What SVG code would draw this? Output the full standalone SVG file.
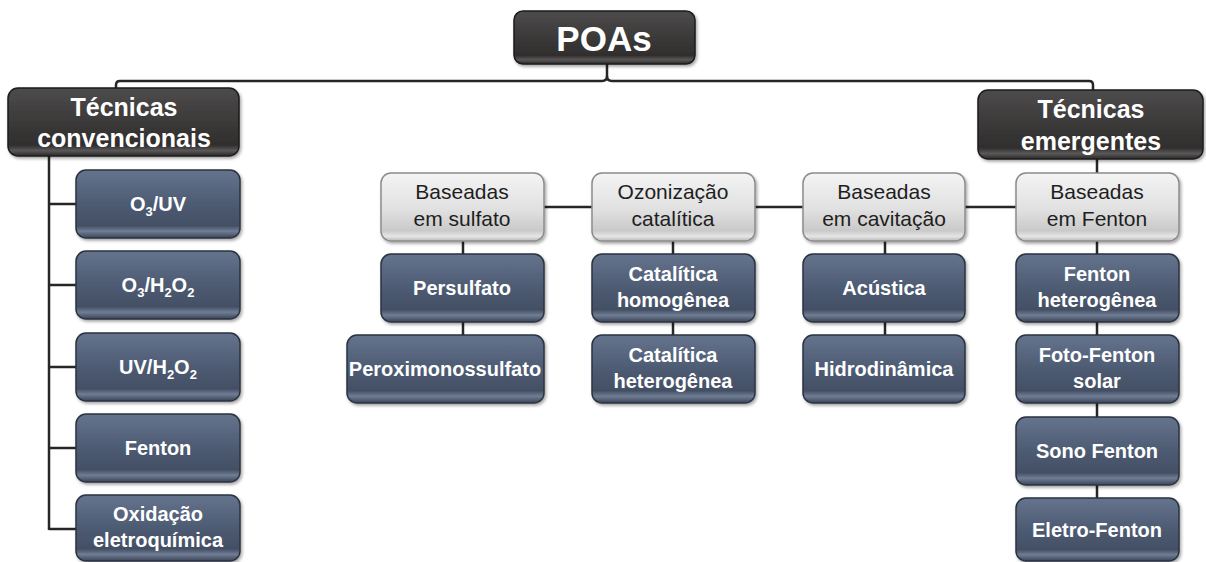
<svg xmlns="http://www.w3.org/2000/svg" width="1206" height="562" viewBox="0 0 1206 562">
<defs>
<linearGradient id="gBlue" x1="0" y1="0" x2="0" y2="1">
<stop offset="0" stop-color="#65748d"/>
<stop offset="0.45" stop-color="#4f5d75"/>
<stop offset="0.82" stop-color="#434f64"/>
<stop offset="0.9" stop-color="#707d94"/>
<stop offset="1" stop-color="#3a4557"/>
</linearGradient>
<linearGradient id="gGray" x1="0" y1="0" x2="0" y2="1">
<stop offset="0" stop-color="#f4f4f4"/>
<stop offset="0.55" stop-color="#e0e0e0"/>
<stop offset="0.85" stop-color="#c9c9c9"/>
<stop offset="0.93" stop-color="#e6e6e6"/>
<stop offset="1" stop-color="#b8b8b8"/>
</linearGradient>
<linearGradient id="gDark" x1="0" y1="0" x2="0" y2="1">
<stop offset="0" stop-color="#4d4b4b"/>
<stop offset="0.5" stop-color="#3b3939"/>
<stop offset="0.84" stop-color="#302e2e"/>
<stop offset="0.92" stop-color="#5a5858"/>
<stop offset="1" stop-color="#2a2828"/>
</linearGradient>
<filter id="sh" x="-10%" y="-10%" width="125%" height="130%">
<feDropShadow dx="1.5" dy="2" stdDeviation="1.5" flood-color="#000" flood-opacity="0.35"/>
</filter>
</defs>
<style>
.blue{fill:url(#gBlue);stroke:#2b3341;stroke-width:1.5;filter:url(#sh)}
.gray{fill:url(#gGray);stroke:#8c8c8c;stroke-width:1.5;filter:url(#sh)}
.dark{fill:url(#gDark);stroke:#1c1c1c;stroke-width:1.5;filter:url(#sh)}
.tw{font-family:"Liberation Sans",Arial,sans-serif;font-weight:bold;font-size:20px;fill:#ffffff;text-anchor:middle}
.tg{font-family:"Liberation Sans",Arial,sans-serif;font-size:21px;fill:#1e1e1e;text-anchor:middle}
.th{font-family:"Liberation Sans",Arial,sans-serif;font-weight:bold;font-size:25px;fill:#ffffff;text-anchor:middle}
.tp{font-family:"Liberation Sans",Arial,sans-serif;font-weight:bold;font-size:35px;fill:#ffffff;text-anchor:middle}
.sub{font-size:13px}
.ln{fill:none;stroke:#262626;stroke-width:2.5}
</style>
<rect x="0" y="0" width="1206" height="562" fill="#ffffff"/>

<g id="connectors">
<path class="ln" d="M116,88 V85 Q116,81 120,81 H602 Q607,81 607,76 V64"/>
<path class="ln" d="M607,76 Q607,81 612,81 H1089 Q1093,81 1093,85 V90"/>
<path class="ln" d="M49,156 V530"/>
<path class="ln" d="M49,204 H76 M49,285 H76 M49,367 H76 M49,448 H76 M49,529 H76"/>
<path class="ln" d="M544,207 H592 M755,207 H803 M965,207 H1016"/>
<path class="ln" d="M1097,159 V173 M1097,241 V254 M1097,322 V335 M1097,403 V417 M1097,485 V498"/>
<path class="ln" d="M463,241 V254 M463,322 V335"/>
<path class="ln" d="M673,241 V254 M673,322 V335"/>
<path class="ln" d="M885,241 V254 M885,322 V335"/>
</g>

<g id="poas">
<rect class="dark" x="514" y="11" width="181" height="53" rx="9"/>
<text class="tp" x="604" y="51">POAs</text>
</g>

<g id="conv">
<rect class="dark" x="8" y="88" width="231" height="68" rx="10"/>
<text class="th" x="124" y="116">Técnicas</text>
<text class="th" x="124" y="147">convencionais</text>
</g>

<g id="emerg">
<rect class="dark" x="978" y="90" width="225" height="69" rx="10"/>
<text class="th" x="1091" y="118">Técnicas</text>
<text class="th" x="1091" y="150">emergentes</text>
</g>

<g id="o3uv">
<rect class="blue" x="76" y="170" width="164" height="68" rx="10"/>
<text class="tw" x="158" y="211">O<tspan class="sub" dy="5">3</tspan><tspan dy="-5">/UV</tspan></text>
</g>
<g id="o3h2o2">
<rect class="blue" x="76" y="251" width="164" height="68" rx="10"/>
<text class="tw" x="158" y="292">O<tspan class="sub" dy="5">3</tspan><tspan dy="-5">/H</tspan><tspan class="sub" dy="5">2</tspan><tspan dy="-5">O</tspan><tspan class="sub" dy="5">2</tspan></text>
</g>
<g id="uvh2o2">
<rect class="blue" x="76" y="333" width="164" height="68" rx="10"/>
<text class="tw" x="158" y="374">UV/H<tspan class="sub" dy="5">2</tspan><tspan dy="-5">O</tspan><tspan class="sub" dy="5">2</tspan></text>
</g>
<g id="fenton">
<rect class="blue" x="76" y="414" width="164" height="68" rx="10"/>
<text class="tw" x="158" y="455">Fenton</text>
</g>
<g id="oxid">
<rect class="blue" x="76" y="495" width="164" height="66" rx="10"/>
<text class="tw" x="158" y="521">Oxidação</text>
<text class="tw" x="158" y="547">eletroquímica</text>
</g>

<g id="sulfato">
<rect class="gray" x="381" y="173" width="163" height="68" rx="10"/>
<text class="tg" x="462" y="199">Baseadas</text>
<text class="tg" x="462" y="226">em sulfato</text>
</g>
<g id="ozon">
<rect class="gray" x="592" y="173" width="163" height="68" rx="10"/>
<text class="tg" x="673" y="199">Ozonização</text>
<text class="tg" x="673" y="226">catalítica</text>
</g>
<g id="cavit">
<rect class="gray" x="803" y="173" width="162" height="68" rx="10"/>
<text class="tg" x="884" y="199">Baseadas</text>
<text class="tg" x="884" y="226">em cavitação</text>
</g>
<g id="bfenton">
<rect class="gray" x="1016" y="173" width="163" height="68" rx="10"/>
<text class="tg" x="1097" y="199">Baseadas</text>
<text class="tg" x="1097" y="226">em Fenton</text>
</g>

<g id="persulfato">
<rect class="blue" x="381" y="254" width="163" height="68" rx="10"/>
<text class="tw" x="462" y="295">Persulfato</text>
</g>
<g id="peroxi">
<rect class="blue" x="347" y="335" width="197" height="68" rx="10"/>
<text class="tw" x="445" y="376">Peroximonossulfato</text>
</g>
<g id="cathom">
<rect class="blue" x="592" y="254" width="163" height="68" rx="10"/>
<text class="tw" x="673" y="281">Catalítica</text>
<text class="tw" x="673" y="307">homogênea</text>
</g>
<g id="cathet">
<rect class="blue" x="592" y="335" width="163" height="68" rx="10"/>
<text class="tw" x="673" y="362">Catalítica</text>
<text class="tw" x="673" y="388">heterogênea</text>
</g>
<g id="acustica">
<rect class="blue" x="803" y="254" width="162" height="68" rx="10"/>
<text class="tw" x="884" y="295">Acústica</text>
</g>
<g id="hidro">
<rect class="blue" x="803" y="335" width="162" height="68" rx="10"/>
<text class="tw" x="884" y="376">Hidrodinâmica</text>
</g>

<g id="fhet">
<rect class="blue" x="1016" y="254" width="163" height="68" rx="10"/>
<text class="tw" x="1097" y="281">Fenton</text>
<text class="tw" x="1097" y="307">heterogênea</text>
</g>
<g id="foto">
<rect class="blue" x="1016" y="335" width="163" height="68" rx="10"/>
<text class="tw" x="1097" y="362">Foto-Fenton</text>
<text class="tw" x="1097" y="388">solar</text>
</g>
<g id="sono">
<rect class="blue" x="1016" y="417" width="163" height="68" rx="10"/>
<text class="tw" x="1097" y="458">Sono Fenton</text>
</g>
<g id="eletro">
<rect class="blue" x="1016" y="498" width="163" height="63" rx="10"/>
<text class="tw" x="1097" y="537">Eletro-Fenton</text>
</g>
</svg>
